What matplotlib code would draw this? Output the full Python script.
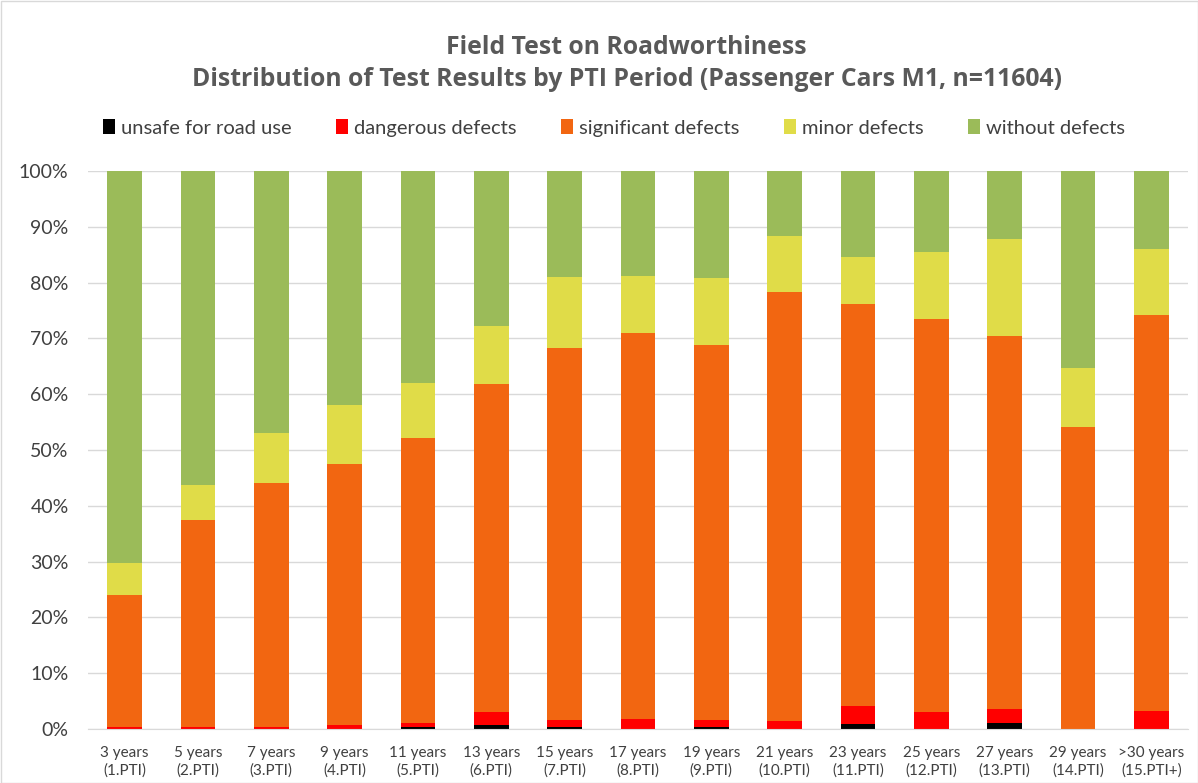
import numpy as np
import matplotlib.pyplot as plt
from matplotlib.patches import Rectangle

# PTI period labels
periods = ['3 years\n(1.PTI)', '5 years\n(2.PTI)', '7 years\n(3.PTI)', '9 years\n(4.PTI)',
           '11 years\n(5.PTI)', '13 years\n(6.PTI)', '15 years\n(7.PTI)', '17 years\n(8.PTI)',
           '19 years\n(9.PTI)', '21 years\n(10.PTI)', '23 years\n(11.PTI)', '25 years\n(12.PTI)',
           '27 years\n(13.PTI)', '29 years\n(14.PTI)', '>30 years\n(15.PTI+)']

# shares in percent
unsafe = [0.0, 0.0, 0.0, 0.0, 0.3, 0.7, 0.3, 0.0, 0.4, 0.0, 0.95, 0.0, 1.15, 0.0, 0.0]
dangerous = [0.3, 0.3, 0.3, 0.7, 0.7, 2.4, 1.3, 1.85, 1.2, 1.45, 3.25, 3.1, 2.45, 0.0, 3.2]
significant = [23.7, 37.2, 43.8, 46.8, 51.1, 58.7, 66.6, 69.05, 67.2, 76.85, 72.0, 70.4, 66.8, 54.2, 71.0]
minor = [5.7, 6.3, 9.0, 10.5, 9.9, 10.5, 12.8, 10.3, 12.1, 10.0, 8.3, 12.0, 17.4, 10.5, 11.9]
without = [70.3, 56.2, 46.9, 42.0, 38.0, 27.7, 19.0, 18.8, 19.1, 11.7, 15.5, 14.5, 12.2, 35.3, 13.9]

series = [('unsafe for road use', unsafe, '#000000'),
          ('dangerous defects', dangerous, '#FF0000'),
          ('significant defects', significant, '#F26611'),
          ('minor defects', minor, '#E0DC48'),
          ('without defects', without, '#9BBB59')]

plt.rcParams['font.family'] = ['Lato', 'DejaVu Sans']

fig = plt.figure(figsize=(11.98, 7.83), dpi=100)
ax = fig.add_axes([88 / 1198, 54 / 783, 1100 / 1198, 558 / 783])

x = np.arange(len(periods))
bottom = np.zeros(len(periods))
for name, vals, col in series:
    vals = np.array(vals)
    ax.bar(x, vals, 0.47, bottom=bottom, color=col, label=name, zorder=3)
    bottom += vals

ax.set_xlim(-0.5, len(periods) - 0.5)
ax.set_ylim(0, 100)
ax.set_yticks(np.arange(0, 101, 10))
ax.set_yticklabels(['{}%'.format(v) for v in range(0, 101, 10)], fontsize=14, color='#404040')
ax.set_xticks(x)
ax.set_xticklabels(periods, fontsize=11, color='#404040', linespacing=1.3)
ax.tick_params(axis='both', length=0)
ax.tick_params(axis='x', pad=12)
ax.tick_params(axis='y', pad=14)
ax.yaxis.grid(True, color='#D9D9D9', linewidth=1, zorder=0)
for s in ['top', 'right', 'left']:
    ax.spines[s].set_visible(False)
ax.spines['bottom'].set_color('#D9D9D9')
ax.spines['bottom'].set_zorder(4)

# title, centred a little right of the figure centre like the original
fig.text(0.523, 1 - 47 / 783, 'Field Test on Roadworthiness', ha='center', va='center',
         fontsize=17.8, fontweight='bold', color='#595959', family=['Open Sans', 'DejaVu Sans'])
fig.text(0.523, 1 - 80 / 783, 'Distribution of Test Results by PTI Period (Passenger Cars M1, n=11604)',
         ha='center', va='center', fontsize=17.8, fontweight='bold', color='#595959',
         family=['Open Sans', 'DejaVu Sans'])

leg = fig.legend(loc='center', bbox_to_anchor=(0.5125, 1 - 128 / 783), ncol=5, frameon=False,
                 fontsize=14.5, handlelength=0.6, handleheight=0.7, handletextpad=0.3,
                 columnspacing=2.2)
for t in leg.get_texts():
    t.set_color('#404040')

fig.patches.append(Rectangle((0.5 / 1198, 0.5 / 783), 1 - 1 / 1198, 1 - 1 / 783,
                             transform=fig.transFigure, fill=False, edgecolor='#D9D9D9',
                             linewidth=1))

fig.savefig('out.png', dpi=100)
